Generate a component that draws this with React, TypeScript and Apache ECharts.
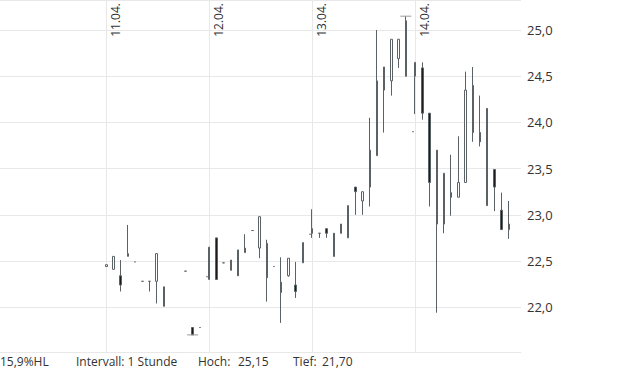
import React, { useEffect, useRef } from 'react';
import * as echarts from 'echarts';

// Hourly candles, 15 slots per trading day: [open, close, low, high] (null = no trade)
const dayLabels = ['11.04.', '12.04.', '13.04.', '14.04.'];

const day11: (number[] | null)[] = [
  [22.44, 22.46, 22.44, 22.46],
  [22.41, 22.55, 22.41, 22.55],
  [22.34, 22.24, 22.17, 22.51],
  [22.55, 22.58, 22.55, 22.89],
  [22.49, 22.49, 22.49, 22.49],
  [22.28, 22.28, 22.28, 22.28],
  [22.28, 22.28, 22.17, 22.28],
  [22.28, 22.58, 22.04, 22.58],
  [22.22, 22.01, 22.01, 22.22],
  null,
  null,
  [22.39, 22.39, 22.39, 22.39],
  [21.78, 21.70, 21.70, 21.78],
  [21.78, 21.78, 21.78, 21.78],
  [22.33, 22.33, 22.33, 22.33],
];

const day12: (number[] | null)[] = [
  [22.30, 22.65, 22.30, 22.65],
  [22.75, 22.30, 22.30, 22.75],
  [22.48, 22.48, 22.48, 22.48],
  [22.51, 22.40, 22.40, 22.51],
  [22.62, 22.34, 22.34, 22.62],
  [22.59, 22.64, 22.59, 22.79],
  [22.83, 22.83, 22.83, 22.83],
  [22.64, 22.98, 22.53, 22.98],
  [22.69, 22.32, 22.06, 22.73],
  [22.44, 22.44, 22.44, 22.44],
  [22.27, 22.16, 21.83, 22.54],
  [22.34, 22.53, 22.33, 22.53],
  [22.24, 22.17, 22.10, 22.49],
  [22.48, 22.70, 22.48, 22.70],
  [22.79, 22.79, 22.79, 22.79],
];

const day13: (number[] | null)[] = [
  [22.85, 22.80, 22.75, 23.06],
  [22.80, 22.80, 22.75, 22.80],
  [22.85, 22.80, 22.75, 22.85],
  [22.80, 22.55, 22.55, 22.80],
  [22.90, 22.80, 22.80, 22.90],
  [22.75, 23.10, 22.75, 23.10],
  [23.30, 23.25, 23.00, 23.30],
  [23.15, 23.25, 23.00, 23.25],
  [23.30, 23.70, 23.09, 24.05],
  [23.64, 24.45, 23.64, 25.00],
  [24.35, 24.60, 23.89, 24.60],
  [24.45, 24.90, 24.29, 24.90],
  [24.69, 24.90, 24.59, 24.90],
  [25.10, 24.50, 24.50, 25.15],
  [23.90, 23.90, 23.90, 23.90],
];

const day14: (number[] | null)[] = [
  [24.50, 24.65, 24.09, 24.65],
  [24.59, 24.10, 24.03, 24.65],
  [24.10, 23.35, 23.09, 24.10],
  [23.70, 22.90, 21.94, 23.70],
  [22.90, 23.45, 22.80, 23.45],
  [23.24, 23.19, 22.99, 23.65],
  [23.19, 23.35, 23.19, 23.85],
  [23.35, 24.35, 23.35, 24.55],
  [24.40, 23.89, 23.79, 24.60],
  [23.89, 23.79, 23.74, 24.29],
  [24.15, 23.10, 23.10, 24.15],
  [23.49, 23.30, 23.04, 23.49],
  [23.05, 22.84, 22.84, 23.24],
  [22.84, 22.90, 22.74, 23.15],
  null,
];

const days = [day11, day12, day13, day14];
const intervalText = 'Intervall: 1 Stunde';

// Axis layout: one day spans ~14.3 hour slots (overnight compressed)
const DAY_UNITS = 14.3;
const X_MIN = -14.76;
const X_MAX = 57.6;
const Y_MIN = 21.515;
const Y_MAX = 25.325;

const fmt = (v: number, d: number) => v.toFixed(d).replace('.', ',');

export default function App() {
  const ref = useRef<HTMLDivElement>(null);

  useEffect(() => {
    if (!ref.current) return;
    const chart = echarts.init(ref.current, undefined, { renderer: 'svg' });

    const candles: number[][] = [];
    days.forEach((day, d) => {
      day.forEach((c, s) => {
        if (c) candles.push([d * DAY_UNITS + s, c[0], c[1], c[2], c[3]]);
      });
    });
    const hi = Math.max(...candles.map((c) => c[4]));
    const lo = Math.min(...candles.map((c) => c[3]));
    const hlPct = ((hi - lo) / lo) * 100;

    const font = "'Open Sans', 'Noto Sans', sans-serif";
    const textColor = '#333333';
    const gridColor = '#e8e8e8';
    const footFont = `12px ${font}`;

    chart.setOption({
      animation: false,
      textStyle: { fontFamily: font },
      grid: { left: 0, right: 99, top: 0, bottom: 20, containLabel: false },
      xAxis: {
        type: 'value',
        min: X_MIN,
        max: X_MAX,
        axisLine: { show: true, lineStyle: { color: gridColor } },
        axisTick: { show: false },
        axisLabel: { show: false },
        splitLine: { show: false },
      },
      yAxis: {
        type: 'value',
        position: 'right',
        min: Y_MIN,
        max: Y_MAX,
        splitNumber: 7,
        scale: true,
        axisLine: { show: true, lineStyle: { color: gridColor } },
        axisTick: { show: false },
        splitLine: { show: true, lineStyle: { color: gridColor } },
        axisLabel: {
          showMinLabel: false,
          showMaxLabel: false,
          margin: 6,
          color: textColor,
          fontSize: 13,
          fontFamily: font,
          formatter: (v: number) => fmt(v, 1),
        },
      },
      series: [
        {
          type: 'candlestick',
          data: candles,
          barWidth: 2,
          itemStyle: {
            color: '#ffffff',
            color0: '#1a1c1e',
            borderColor: '#5b6266',
            borderColor0: '#5b6266',
            borderWidth: 1,
          },
          markLine: {
            silent: true,
            z: 1,
            symbol: ['none', 'none'],
            lineStyle: { color: gridColor, width: 1, type: 'solid' },
            label: {
              show: true,
              position: 'insideEndBottom',
              distance: 3,
              color: textColor,
              fontSize: 12,
              fontFamily: font,
              formatter: (p: any) => p.name,
            },
            data: dayLabels.map((name, i) => ({ name, xAxis: i * DAY_UNITS })),
          },
          markPoint: {
            silent: true,
            symbol: 'rect',
            symbolSize: [11, 1],
            itemStyle: { color: '#9a9a9a' },
            label: { show: false },
            data: [
              { type: 'max', valueDim: 'highest' },
              { type: 'min', valueDim: 'lowest' },
            ],
          },
        },
      ],
      graphic: [
        { type: 'text', left: 0, top: 355, style: { text: fmt(hlPct, 1) + '%HL', font: footFont, fill: textColor } },
        { type: 'text', left: 76, top: 355, style: { text: intervalText, font: footFont, fill: textColor } },
        { type: 'text', left: 198, top: 355, style: { text: 'Hoch:', font: footFont, fill: textColor } },
        { type: 'text', left: 238, top: 355, style: { text: fmt(hi, 2), font: footFont, fill: textColor } },
        { type: 'text', left: 293, top: 355, style: { text: 'Tief:', font: footFont, fill: textColor } },
        { type: 'text', left: 322, top: 355, style: { text: fmt(lo, 2), font: footFont, fill: textColor } },
      ],
    });

    return () => chart.dispose();
  }, []);

  return (
    <div
      ref={ref}
      style={{ position: 'absolute', left: 0, top: 0, width: 620, height: 372 }}
    />
  );
}
